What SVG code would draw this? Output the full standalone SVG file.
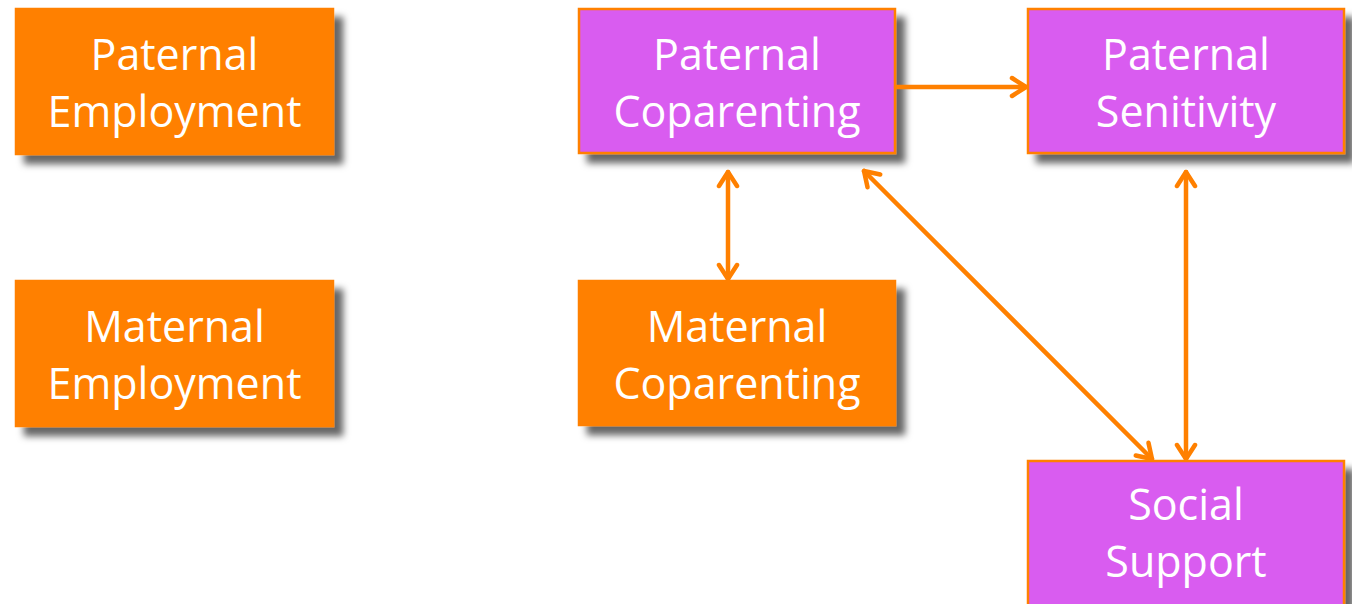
<svg xmlns="http://www.w3.org/2000/svg" width="1352" height="604" viewBox="0 0 1352 604">
<style>
.box{stroke-width:2.5}
.org{fill:#FF8000;stroke:#FF8000}
.pur{fill:#D95BF0;stroke:#FF8000}
.lbl{font-family:"Open Sans","Liberation Sans",sans-serif;font-size:43px;fill:#FFFFFF;text-anchor:middle}
.con{stroke:#FF8000;stroke-width:4.5;fill:none;stroke-linecap:round}
</style>
<defs>
<filter id="sh" x="-10%" y="-10%" width="130%" height="140%">
<feGaussianBlur in="SourceAlpha" stdDeviation="3.5"/>
<feOffset dx="9" dy="9" result="b"/>
<feFlood flood-color="#000" flood-opacity="0.6"/>
<feComposite in2="b" operator="in"/>
<feMerge><feMergeNode/><feMergeNode in="SourceGraphic"/></feMerge>
</filter>
<marker id="ah" viewBox="0 0 24 24" refX="20" refY="12" markerWidth="24" markerHeight="24" markerUnits="userSpaceOnUse" orient="auto-start-reverse">
<path d="M6,3 L20,12 L6,21" fill="none" stroke="#FF8000" stroke-width="4.5" stroke-linecap="round" stroke-linejoin="round"/>
</marker>
</defs>
<rect width="1352" height="604" fill="#FFFFFF"/>
<g id="paternal-employment">
<rect class="box org" x="16" y="9" width="317" height="145" filter="url(#sh)"/>
<text class="lbl" x="174.5" y="70">Paternal</text>
<text class="lbl" x="174.5" y="127">Employment</text>
</g>
<g id="maternal-employment">
<rect class="box org" x="16" y="281" width="317" height="145" filter="url(#sh)"/>
<text class="lbl" x="174.5" y="342">Maternal</text>
<text class="lbl" x="174.5" y="399">Employment</text>
</g>
<g id="paternal-coparenting">
<rect class="box pur" x="579" y="9" width="316" height="144" filter="url(#sh)"/>
<text class="lbl" x="737" y="70">Paternal</text>
<text class="lbl" x="737" y="127">Coparenting</text>
</g>
<g id="paternal-sensitivity">
<rect class="box pur" x="1028" y="9" width="316" height="144" filter="url(#sh)"/>
<text class="lbl" x="1186" y="70">Paternal</text>
<text class="lbl" x="1186" y="127">Senitivity</text>
</g>
<g id="maternal-coparenting">
<rect class="box org" x="579" y="281" width="316" height="144" filter="url(#sh)"/>
<text class="lbl" x="737" y="342">Maternal</text>
<text class="lbl" x="737" y="399">Coparenting</text>
</g>
<g id="social-support">
<rect class="box pur" x="1028" y="461" width="316" height="150" filter="url(#sh)"/>
<text class="lbl" x="1186" y="520">Social</text>
<text class="lbl" x="1186" y="577">Support</text>
</g>
<g id="connectors">
<line class="con" x1="896" y1="87" x2="1026" y2="87" marker-end="url(#ah)"/>
<line class="con" x1="728" y1="172" x2="728" y2="279" marker-start="url(#ah)" marker-end="url(#ah)"/>
<line class="con" x1="864" y1="171" x2="1152" y2="459" marker-start="url(#ah)" marker-end="url(#ah)"/>
<line class="con" x1="1186" y1="172" x2="1186" y2="459" marker-start="url(#ah)" marker-end="url(#ah)"/>
</g>
</svg>
